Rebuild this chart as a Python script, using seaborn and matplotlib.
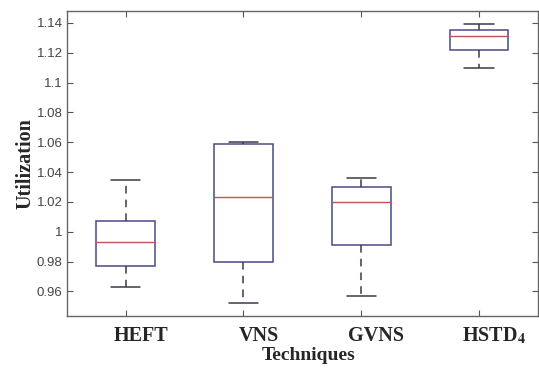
import numpy as np
import pandas as pd
import matplotlib
matplotlib.use('Agg')
import matplotlib.pyplot as plt
import matplotlib.transforms as mtransforms
import seaborn as sns

techniques = ['HEFT', 'VNS', 'GVNS', 'HSTD4']
tick_names = ['HEFT', 'VNS', 'GVNS', r'HSTD$_\mathbf{4}$']
# five-number summaries: min, q1, median, q3, max
heft = [0.963, 0.977, 0.993, 1.007, 1.035]
vns = [0.952, 0.980, 1.023, 1.059, 1.0605]
gvns = [0.957, 0.991, 1.020, 1.030, 1.036]
hstd4 = [1.110, 1.122, 1.131, 1.135, 1.139]
yticks = [0.96, 0.98, 1.0, 1.02, 1.04, 1.06, 1.08, 1.1, 1.12, 1.14]
ytick_labels = ['0.96', '0.98', '1', '1.02', '1.04', '1.06', '1.08', '1.1', '1.12', '1.14']

df = pd.DataFrame({
    'Technique': np.repeat(techniques, 5),
    'Utilization': heft + vns + gvns + hstd4,
})

sns.set_style('white')
plt.rcParams['font.family'] = ['Liberation Sans', 'DejaVu Sans']
plt.rcParams['mathtext.fontset'] = 'stix'

edge = '#4a4a88'
fig = plt.figure(figsize=(5.39, 3.69), dpi=100)
ax = fig.add_axes([0.124, 0.143, 0.874, 0.827])

sns.boxplot(data=df, x='Technique', y='Utilization', order=techniques, ax=ax,
            whis=(0, 100), width=0.5, color='white', linecolor=edge, linewidth=1.1,
            whiskerprops=dict(linestyle=(0, (5, 4)), color='#3a3a4a'),
            capprops=dict(color='#3a3a4a'),
            medianprops=dict(color='#c85050', linewidth=1.0))

ax.set_xlim(-0.5, 3.5)
ax.set_ylim(0.9433, 1.148)
ax.set_yticks(yticks, ytick_labels)
ax.set_xticks(range(4), tick_names)

ax.tick_params(axis='y', which='both', direction='in', left=True, right=True,
               length=4, width=0.8, color='#555555', labelsize=9.5, labelcolor='#444444', pad=3)
ax.tick_params(axis='x', which='both', direction='in', bottom=True, top=True,
               length=4, width=0.8, color='#555555', pad=7)

# labels sit a little right of their ticks in the original
shift = mtransforms.ScaledTranslation(0.15, 0, fig.dpi_scale_trans)
for lab in ax.get_xticklabels():
    lab.set_family(['Liberation Serif'])
    lab.set_fontweight('bold')
    lab.set_fontsize(14.5)
    lab.set_transform(lab.get_transform() + shift)

for s in ax.spines.values():
    s.set_visible(True)
    s.set_color('#666666')
    s.set_linewidth(1.0)

ax.set_xlabel('Techniques', family='Liberation Serif', fontweight='bold', fontsize=14)
ax.xaxis.set_label_coords(0.514, -0.102)
ax.set_ylabel('Utilization', family='Liberation Serif', fontweight='bold', fontsize=14.5, labelpad=1)

fig.savefig('out.png', dpi=100)
